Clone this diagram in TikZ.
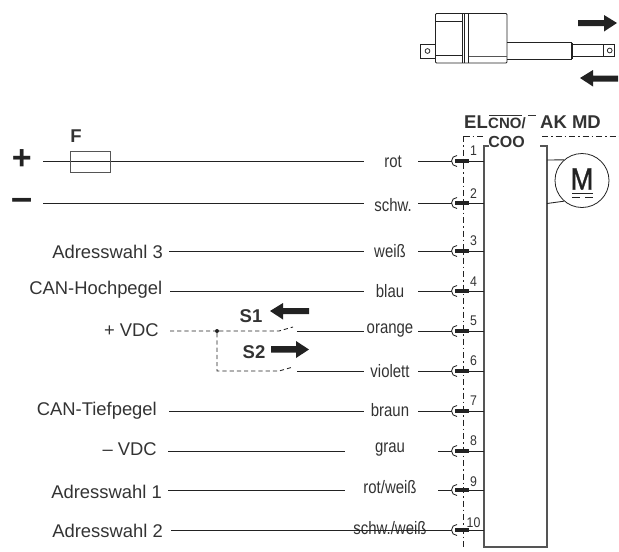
\documentclass[tikz,border=0pt]{standalone}
\usepackage{fontspec}
\setmainfont{Liberation Sans}
\newfontfamily\condf[FakeStretch=0.83]{Liberation Sans}
\newfontfamily\numf[FakeStretch=0.88]{Liberation Sans}
\newfontfamily\motf[FakeStretch=0.88,FakeBold=1]{Liberation Sans}
\definecolor{ink}{HTML}{222222}
\definecolor{txt}{HTML}{333333}
\definecolor{boxc}{HTML}{555555}
\tikzset{
  wire/.style={draw=ink,line width=0.85pt},
  mech/.style={draw=ink,line width=0.75pt},
  dashw/.style={draw=ink,line width=0.85pt,dash pattern=on 4.2pt off 3pt},
  dashdot/.style={draw=ink,line width=0.8pt,dash pattern=on 6pt off 3pt on 1.5pt off 3pt},
  lefttext/.style={inner sep=0pt,anchor=east,text=txt,font=\fontsize{18.4}{20}\selectfont},
  colortext/.style={inner sep=0pt,text=txt,font=\condf\fontsize{18}{20}\selectfont},
  numtext/.style={inner sep=0pt,text=txt,font=\numf\fontsize{14}{15}\selectfont},
  headtext/.style={inner sep=0pt,text=txt,font=\bfseries\fontsize{18.5}{20}\selectfont},
  subtext/.style={inner sep=0pt,text=txt,font=\bfseries\fontsize{16}{18}\selectfont},
  barpin/.style={fill=ink,draw=none,minimum width=14pt,minimum height=3.6pt,inner sep=0pt},
  fatarrow/.style={fill=ink,draw=none},
}
\begin{document}
\begin{tikzpicture}[x=1pt,y=-1pt]
\useasboundingbox (0,0) rectangle (619,552);
% actuator
\draw[mech,rounded corners=1pt] (435.5,13.5) rectangle (507,63);
\draw[mech] (435.5,21) -- (462,21) (435.5,55.5) -- (462,55.5);
\draw[mech] (462,13.5) -- (462,63) (464.5,13.5) -- (464.5,63) (468.5,13.5) -- (468.5,63);
\draw[draw=boxc,line width=0.8pt] (468.5,56.5) -- (507,56.5);
\draw[mech] (435.5,44) -- (420,44) -- (420,58.5) -- (435.5,58.5);
\draw[mech] (427.5,51) circle[radius=2.4pt];
\draw[mech] (507,42.5) -- (571,42.5) -- (571,59.3) -- (507,59.3);
\draw[mech] (572.5,42.5) -- (572.5,59.3);
\draw[mech] (572.5,44.8) -- (603,44.8) (572.5,56.5) -- (603,56.5);
\draw[mech] (603,44.5) rectangle (614.5,56);
\draw[mech] (609.7,50.5) circle[radius=2.4pt];
% travel arrows
\fill[fatarrow] (578,20) -- (604,20) -- (604,15) -- (617,23) -- (604,31.5) -- (604,26) -- (578,26) -- cycle;
\fill[fatarrow] (618,75.5) -- (593,75.5) -- (593,70) -- (580,78) -- (593,86.5) -- (593,81.5) -- (618,81.5) -- cycle;
% heading
\node[headtext,anchor=west] (hel) at (464,122) {EL};
\node[inner sep=0pt,anchor=west,text=txt,font=\bfseries\fontsize{15}{17}\selectfont] (hcno) at (488,123) {CNO/};
\node[headtext,anchor=west] (hak) at (540,122) {AK MD};
\node[subtext] (hcoo) at (506.5,142) {COO};
\draw[draw=txt,line width=0.8pt] (489,115.3) -- (522,115.3) (528,115.3) -- (536,115.3);
% enclosure
\draw[dashdot] (463.5,136) -- (486,136);
\draw[dashdot] (542,136) -- (619,136);
\draw[dashdot] (463.5,136) -- (463.5,549);
% controller box
\draw[draw=boxc,line width=1.1pt] (489,146) -- (484,146) -- (484,547) -- (547,547) -- (547,146) -- (540,146);
% motor
\node[circle,draw=ink,line width=0.8pt,minimum size=54pt,inner sep=0pt] (motor) at (582,180.5) {};
\node[inner sep=0pt,text=ink,font=\motf\fontsize{31}{33}\selectfont] (mlabel) at (582,179) {M};
\draw[wire] (572,193) -- (593,193);
\draw[wire] (572,197.5) -- (580,197.5) (585,197.5) -- (593,197.5);
\coordinate (ma) at (547,160);
\coordinate (mb) at (547,203.5);
\draw[wire] (ma) -- (motor.131);
\draw[wire] (mb) -- (motor.229);
% pin rows: n / wire y / wire start / wire stop / text x / text y / right start / text
\foreach \n/\y/\sx/\ex/\tx/\ty/\rx/\lab/\ny in {
 1/161/43/364/393/162/418/rot/151,
 2/203/43/364/393/205.5/418/schw./194,
 3/251/169/364/390/251/418/weiß/241,
 4/291/170/364/390/291/418/blau/282,
 5/331/297/364/390/331/418/orange/321,
 6/371/297/364/390/371/418/violett/361,
 7/411/169/364/390/410/418/braun/401,
 8/451/168/345/390/450/438/grau/441,
 9/490/168/345/390/487/438/rot\slash weiß/482,
 10/530/171/438/390/528/438/schw.\slash weiß/523}{
  \coordinate (s\n) at (\sx,\y);
  \coordinate (e\n) at (\ex,\y);
  \coordinate (r\n) at (\rx,\y);
  \coordinate (a\n) at (457,\y);
  \node[barpin] (b\n) at (462,\y) {};
  \coordinate (q\n) at (484,\y);
  \node[colortext] (w\n) at (\tx,\ty) {\lab};
  \node[numtext] (n\n) at (473.5,\ny) {\n};
  \draw[wire] (s\n) -- (e\n);
  \draw[wire] (r\n) -- ([xshift=-5.5pt]a\n);
  \draw[wire] ([yshift=5.5pt]a\n) arc[start angle=90,end angle=270,radius=5.5pt];
  \draw[wire] (b\n.east) -- (q\n);
}
% power
\node[draw=boxc,line width=0.9pt,minimum width=40pt,minimum height=21pt,inner sep=0pt] (fuse) at (90,161.5) {};
\node[headtext] (flabel) at (76,136.5) {F};
\node[inner sep=0pt,text=ink,font=\bfseries\fontsize{34}{36}\selectfont] (plus) at (21.7,160) {+};
\node[inner sep=0pt,text=ink,font=\bfseries\fontsize{38}{40}\selectfont] (minus) at (22,204) {–};
% left labels
\node[lefttext] (l3) at (163,251.5) {Adresswahl 3};
\node[lefttext] (l4) at (162.5,290) {CAN-Hochpegel};
\node[lefttext] (l5) at (159,330) {+ VDC};
\node[lefttext] (l7) at (157,411) {CAN-Tiefpegel};
\node[lefttext] (l8) at (157,449) {– VDC};
\node[lefttext] (l9) at (162,492) {Adresswahl 1};
\node[lefttext] (l10) at (163,531) {Adresswahl 2};
% switches
\coordinate (vs) at (170,331);
\node[circle,fill=ink,inner sep=0pt,minimum size=4pt] (dot) at (217,331) {};
\coordinate (c1) at (279,331);
\coordinate (o1) at (293,327);
\coordinate (k2) at (217,371);
\coordinate (c2) at (279,371);
\coordinate (o2) at (293,367);
\draw[dashw] (vs) -- (dot) -- (c1) -- (o1);
\draw[dashw] (dot) -- (k2) -- (c2) -- (o2);
\node[headtext] (s1l) at (251,316) {S1};
\node[headtext] (s2l) at (254,352.5) {S2};
\fill[fatarrow] (309,308) -- (283,308) -- (283,303) -- (270,311) -- (283,319.5) -- (283,314) -- (309,314) -- cycle;
\fill[fatarrow] (271,346) -- (296,346) -- (296,341) -- (309,349.5) -- (296,358) -- (296,352.5) -- (271,352.5) -- cycle;
\end{tikzpicture}
\end{document}
